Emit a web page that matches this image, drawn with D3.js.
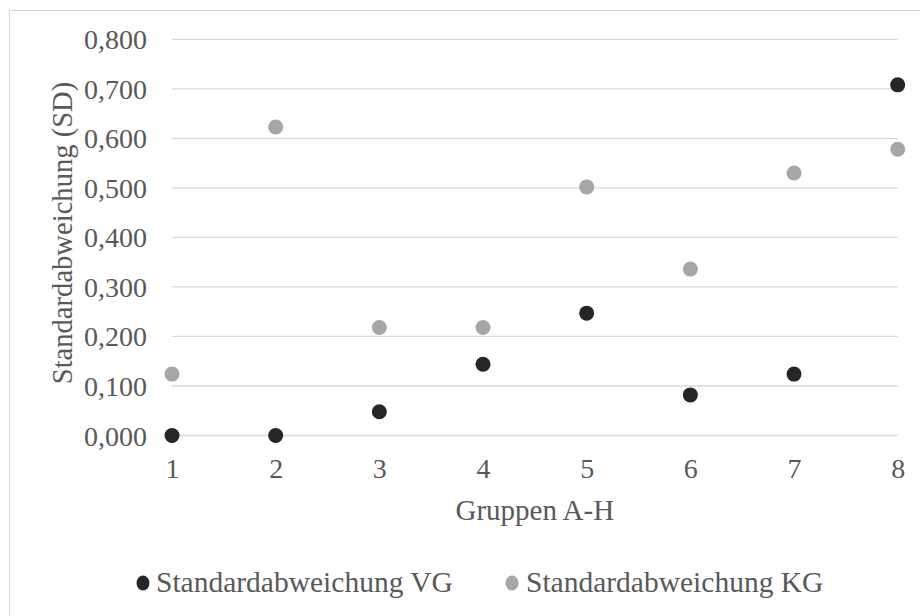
<!DOCTYPE html>
<html>
<head>
<meta charset="utf-8">
<script src="https://cdn.jsdelivr.net/npm/d3@7"></script>
<style>
  html, body { margin: 0; padding: 0; background: #fff; }
  svg { display: block; }
  text { font-family: "Liberation Serif", "Times New Roman", serif; fill: #595959; }
</style>
</head>
<body>
<svg id="chart" width="920" height="616"></svg>
<script>
const groups = [1, 2, 3, 4, 5, 6, 7, 8];
const sdVG = [0.000, 0.000, 0.048, 0.144, 0.247, 0.082, 0.124, 0.708];
const sdKG = [0.124, 0.623, 0.218, 0.218, 0.502, 0.336, 0.530, 0.578];
const yTicks = [0, 0.1, 0.2, 0.3, 0.4, 0.5, 0.6, 0.7, 0.8];
const seriesNames = ["Standardabweichung VG", "Standardabweichung KG"];
const colors = ["#262626", "#a8a5a5"];
const xTitle = "Gruppen A-H";
const yTitle = "Standardabweichung (SD)";

const svg = d3.select("#chart");
const fs = 28;

// outer border
svg.append("rect").attr("x", 9.5).attr("y", 10.5).attr("width", 930).attr("height", 630)
  .attr("fill", "none").attr("stroke", "#d9d9d9").attr("stroke-width", 1);

const x = d3.scaleLinear().domain([1, 8]).range([172, 897.7]);
const y = d3.scaleLinear().domain([0, 0.8]).range([435.5, 39.3]);

const fmt = v => d3.format(".3f")(v).replace(".", ",");

// gridlines
svg.append("g").selectAll("line").data(yTicks).join("line")
  .attr("x1", x(1)).attr("x2", x(8))
  .attr("y1", d => y(d)).attr("y2", d => y(d))
  .attr("stroke", "#d9d9d9").attr("stroke-width", 1.3);

// y axis labels
const yAxis = d3.axisLeft(y).tickValues(yTicks).tickFormat(fmt).tickSize(0).tickPadding(25);
const gy = svg.append("g").attr("transform", `translate(${x(1)},0)`).call(yAxis);
gy.select(".domain").remove();
gy.selectAll("text").attr("font-size", fs).attr("fill", "#595959")
  .attr("font-family", "Liberation Serif").attr("dy", "0.34em");

// x axis labels
const xAxis = d3.axisBottom(x).tickValues(groups).tickFormat(d3.format("d")).tickSize(0).tickPadding(0);
const gx = svg.append("g").attr("transform", `translate(0,${y(0)})`).call(xAxis);
gx.select(".domain").remove();
gx.selectAll("text").attr("font-size", fs).attr("fill", "#595959")
  .attr("font-family", "Liberation Serif").attr("dy", null).attr("y", 42.5);

// axis titles
svg.append("text").attr("x", (x(1) + x(8)) / 2).attr("y", 520)
  .attr("text-anchor", "middle").attr("font-size", 29).text(xTitle);
svg.append("text").attr("transform", `translate(72,233) rotate(-90)`)
  .attr("text-anchor", "middle").attr("font-size", 28.6).text(yTitle);

// points
const series = [sdVG, sdKG];
[1, 0].forEach(i => {
  svg.append("g").selectAll("circle").data(groups.map((g, j) => ({g, v: series[i][j]})))
    .join("circle")
    .attr("cx", d => x(d.g)).attr("cy", d => y(d.v)).attr("r", 7.5)
    .attr("fill", colors[i]);
});

// legend
const legendItems = [{dx: 143, tx: 156}, {dx: 512, tx: 526}];
seriesNames.forEach((name, i) => {
  svg.append("ellipse").attr("cx", legendItems[i].dx).attr("cy", 583)
    .attr("rx", 6.5).attr("ry", 7.5).attr("fill", colors[i]);
  svg.append("text").attr("x", legendItems[i].tx).attr("y", 592)
    .attr("font-size", 29.5).text(name);
});
</script>
</body>
</html>
